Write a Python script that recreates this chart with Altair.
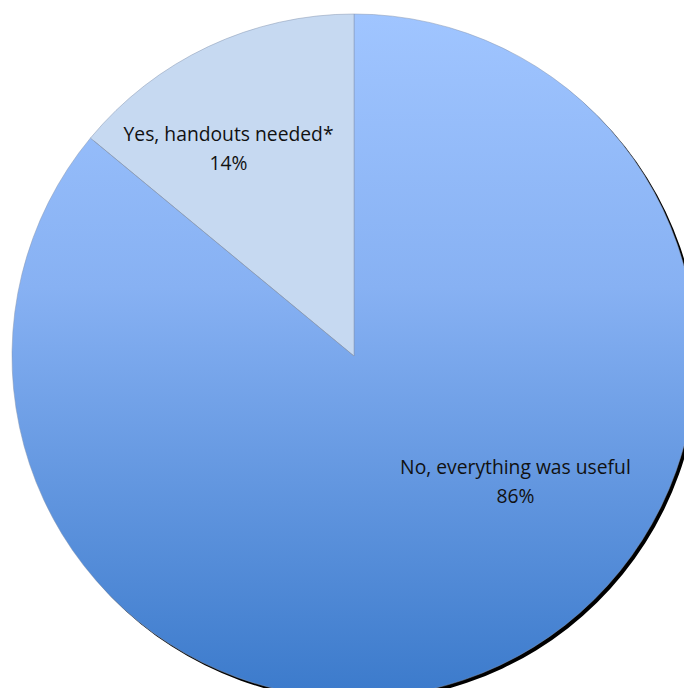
import altair as alt
import pandas as pd

categories = ["No, everything was useful", "Yes, handouts needed*"]
values = [86, 14]
order = [1, 2]

df = pd.DataFrame({"category": categories, "value": values, "order": order})

W, H = 660, 664
R = 342

base = (
    alt.Chart(df)
    .transform_window(cum="sum(value)", sort=[alt.SortField("order")], frame=[None, 0])
    .transform_joinaggregate(total="sum(value)")
    .transform_calculate(
        start="2*PI*(datum.cum - datum.value)/datum.total",
        end="2*PI*datum.cum/datum.total",
        pct="format(datum.value/datum.total, '.0%')",
    )
    .transform_calculate(
        mid="(datum.start + datum.end)/2",
        label="datum.category + '\\n' + datum.pct",
    )
)

theta = alt.Theta("start:Q", scale=None)
theta2 = alt.Theta2("end:Q")

shadow = base.mark_arc(fill="#000000", radius=R).encode(
    theta=theta, theta2=theta2,
    x=alt.value(W / 2 + 3), y=alt.value(H / 2 + 3),
)

gradient = {
    "gradient": "linear",
    "x1": 0, "y1": 0, "x2": 0, "y2": 1,
    "stops": [
        {"offset": 0, "color": "#A0C5FF"},
        {"offset": 0.4, "color": "#87B1F3"},
        {"offset": 1, "color": "#3B7ACB"},
    ],
}

big = base.transform_filter(alt.datum.order == 1).mark_arc(
    fill=gradient, radius=R, stroke="#8797b0", strokeWidth=0.5
).encode(theta=theta, theta2=theta2)

small = base.transform_filter(alt.datum.order == 2).mark_arc(
    fill="#C6D9F1", radius=R, stroke="#8797b0", strokeWidth=0.5
).encode(theta=theta, theta2=theta2)

text_style = dict(font="Open Sans", fontSize=19.3, color="#111111", lineBreak="\n",
                  lineHeight=29, align="center", baseline="middle")

big_label = base.transform_filter(alt.datum.order == 1).mark_text(
    radius=243, dx=58, dy=-108, **text_style
).encode(theta=alt.Theta("mid:Q", scale=None), text="label:N")

small_label = base.transform_filter(alt.datum.order == 2).mark_text(
    radius=243, dx=-22, dy=-1, **text_style
).encode(theta=alt.Theta("mid:Q", scale=None), text="label:N")

chart = (
    alt.layer(shadow, big, small, big_label, small_label)
    .properties(
        width=W, height=H,
        autosize=alt.AutoSizeParams(type="none"),
        padding={"left": 16, "top": 16, "right": 0, "bottom": 0},
        view=alt.ViewBackground(stroke="transparent", strokeWidth=0),
    )
    .configure_view(stroke="transparent", strokeWidth=0)
    .configure(background="white")
)

chart.save("out.html", embed_options={"renderer": "svg", "actions": False})
